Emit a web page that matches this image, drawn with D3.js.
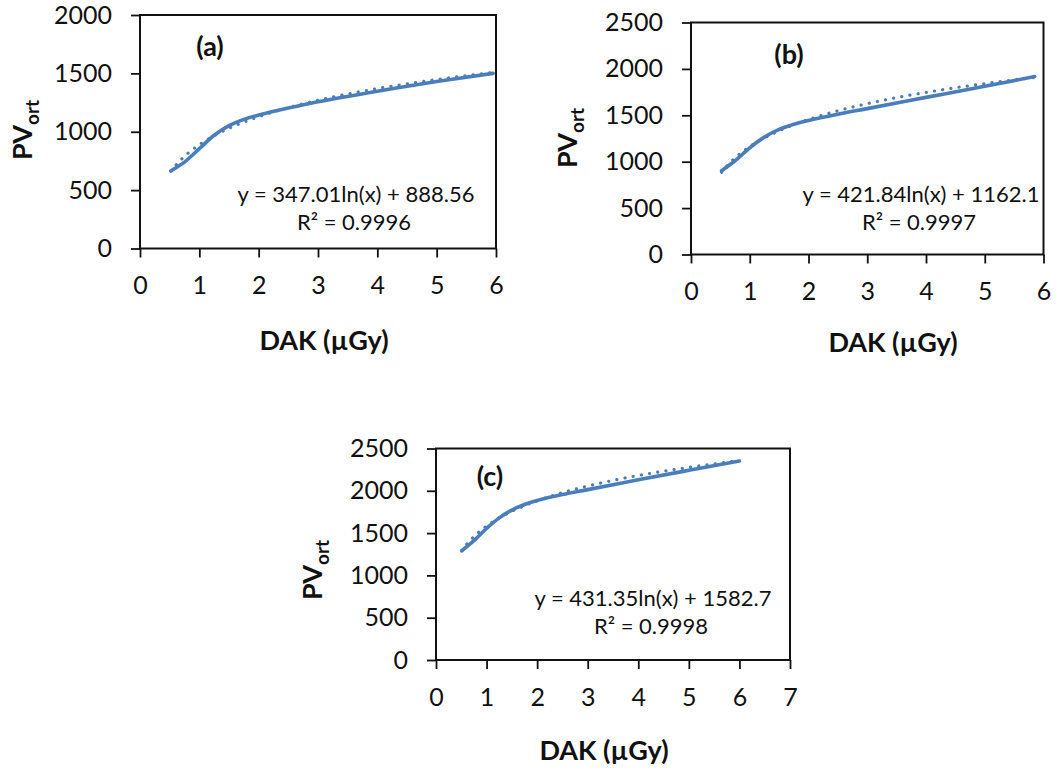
<!DOCTYPE html>
<html>
<head>
<meta charset="utf-8">
<script src="https://cdn.jsdelivr.net/npm/d3@7"></script>
<style>
  html, body { margin: 0; padding: 0; background: #fff; }
  svg { display: block; font-family: Lato, "Open Sans", sans-serif; }
</style>
</head>
<body>
<svg id="fig" width="1058" height="773"></svg>
<script>
// ---- measured series: detector dose (DAK, µGy) vs. mean pixel value PV_ort ----
const dakA = [0.52, 0.75, 1.0, 1.25, 1.5, 1.75, 2.0, 2.5, 3.0, 4.0, 5.0, 5.95];
const pvA  = [665, 740, 855, 970, 1052, 1106, 1143, 1203, 1257, 1347, 1430, 1500];

const dakB = [0.52, 0.75, 1.0, 1.25, 1.5, 1.75, 2.0, 2.5, 3.0, 4.0, 5.0, 5.85];
const pvB  = [902, 1010, 1150, 1265, 1348, 1404, 1445, 1512, 1572, 1693, 1812, 1917];

const dakC = [0.51, 0.75, 1.0, 1.25, 1.5, 1.75, 2.0, 2.5, 3.0, 4.0, 5.0, 6.0];
const pvC  = [1291, 1410, 1555, 1680, 1772, 1838, 1885, 1955, 2014, 2130, 2242, 2352];

// logarithmic trendlines y = slope * ln(x) + intercept
const fitA = { slope: 347.01, intercept: 888.56, r2: "0.9996" };
const fitB = { slope: 421.84, intercept: 1162.1, r2: "0.9997" };
const fitC = { slope: 431.35, intercept: 1582.7, r2: "0.9998" };

// axis ticks
const xTicks6 = [0, 1, 2, 3, 4, 5, 6];
const xTicks7 = [0, 1, 2, 3, 4, 5, 6, 7];
const yTicks2000 = [0, 500, 1000, 1500, 2000];
const yTicks2500 = [0, 500, 1000, 1500, 2000, 2500];

const panelNames = ["(a)", "(b)", "(c)"];
const xTitle = "DAK (µGy)";

// ---- layout ----
const BLUE = "#4A7EBB";
const INK = "#111";

const panels = [
  { name: panelNames[0], dak: dakA, pv: pvA, fit: fitA, xTicks: xTicks6, yTicks: yTicks2000,
    box: { l: 140, r: 496, t: 15, b: 248.5 },
    nameAt: [210, 56], eqAt: [356, 202], xTitleAt: [324, 350], yTitleAt: [32, 130] },
  { name: panelNames[1], dak: dakB, pv: pvB, fit: fitB, xTicks: xTicks6, yTicks: yTicks2500,
    box: { l: 691, r: 1043.5, t: 22.5, b: 254.5 },
    nameAt: [789, 64], eqAt: [921, 202], xTitleAt: [893, 352], yTitleAt: [577, 138] },
  { name: panelNames[2], dak: dakC, pv: pvC, fit: fitC, xTicks: xTicks7, yTicks: yTicks2500,
    box: { l: 436, r: 790, t: 448.5, b: 660 },
    nameAt: [490, 486], eqAt: [653, 606], xTitleAt: [604, 760], yTitleAt: [322, 570] }
];

const svg = d3.select("#fig");
const fmt = d3.format("d");

panels.forEach(p => {
  const { l, r, t, b } = p.box;
  const x = d3.scaleLinear().domain([0, d3.max(p.xTicks)]).range([l, r]);
  const y = d3.scaleLinear().domain([0, d3.max(p.yTicks)]).range([b, t]);
  const g = svg.append("g");

  // axes with outward ticks
  const yAxis = d3.axisLeft(y).tickValues(p.yTicks).tickFormat(fmt)
    .tickSizeInner(9).tickSizeOuter(0).tickPadding(19);
  const xAxis = d3.axisBottom(x).tickValues(p.xTicks).tickFormat(fmt)
    .tickSizeInner(9).tickSizeOuter(0).tickPadding(19);

  const ya = g.append("g").attr("transform", `translate(${l},0)`).call(yAxis);
  const xa = g.append("g").attr("transform", `translate(0,${b})`).call(xAxis);
  [ya, xa].forEach(a => {
    a.select(".domain").remove();
    a.selectAll(".tick line").attr("stroke", INK).attr("stroke-width", 1.8);
    a.selectAll(".tick text").attr("fill", INK).style("font-size", "25px").style("font-family", "Lato");
  });

  // plot-area frame
  g.append("rect")
    .attr("x", l).attr("y", t).attr("width", r - l).attr("height", b - t)
    .attr("fill", "none").attr("stroke", INK).attr("stroke-width", 2);

  // measured curve (smoothed)
  const pts = p.dak.map((d, i) => [d, p.pv[i]]);
  const line = d3.line().x(d => x(d[0])).y(d => y(d[1])).curve(d3.curveCatmullRom.alpha(0.5));
  g.append("path").attr("d", line(pts))
    .attr("fill", "none").attr("stroke", BLUE).attr("stroke-width", 3.6)
    .attr("stroke-linecap", "round").attr("stroke-linejoin", "round");

  // logarithmic trendline over the data range, dotted
  const [x0, x1] = d3.extent(p.dak);
  const trend = d3.range(0, 201).map(k => {
    const xv = x0 + (x1 - x0) * k / 200;
    return [xv, p.fit.slope * Math.log(xv) + p.fit.intercept];
  });
  g.append("path").attr("d", d3.line().x(d => x(d[0])).y(d => y(d[1]))(trend))
    .attr("fill", "none").attr("stroke", BLUE).attr("stroke-width", 3.2)
    .attr("stroke-linecap", "round").attr("stroke-dasharray", "0.1 8.2");

  // panel letter
  g.append("text").attr("x", p.nameAt[0]).attr("y", p.nameAt[1])
    .attr("text-anchor", "middle").attr("fill", INK)
    .style("font-size", "27px").style("font-weight", "bold").text(p.name);

  // trendline equation and R²
  const eq = g.append("text").attr("text-anchor", "middle").attr("fill", INK).style("font-size", "22px");
  eq.append("tspan").attr("x", p.eqAt[0]).attr("y", p.eqAt[1])
    .text(`y = ${p.fit.slope}ln(x) + ${p.fit.intercept}`);
  eq.append("tspan").attr("x", p.eqAt[0] - 2).attr("y", p.eqAt[1] + 28)
    .text(`R² = ${p.fit.r2}`);

  // x-axis title
  g.append("text").attr("x", p.xTitleAt[0]).attr("y", p.xTitleAt[1])
    .attr("text-anchor", "middle").attr("fill", INK)
    .style("font-size", "27px").style("font-weight", "bold").text(xTitle);

  // y-axis title PV_ort (rotated)
  const yt = g.append("text")
    .attr("transform", `translate(${p.yTitleAt[0]},${p.yTitleAt[1]}) rotate(-90)`)
    .attr("text-anchor", "middle").attr("fill", INK)
    .style("font-size", "27px").style("font-weight", "bold");
  yt.append("tspan").text("PV");
  yt.append("tspan").attr("dy", 7).style("font-size", "19px").text("ort");
});
</script>
</body>
</html>
